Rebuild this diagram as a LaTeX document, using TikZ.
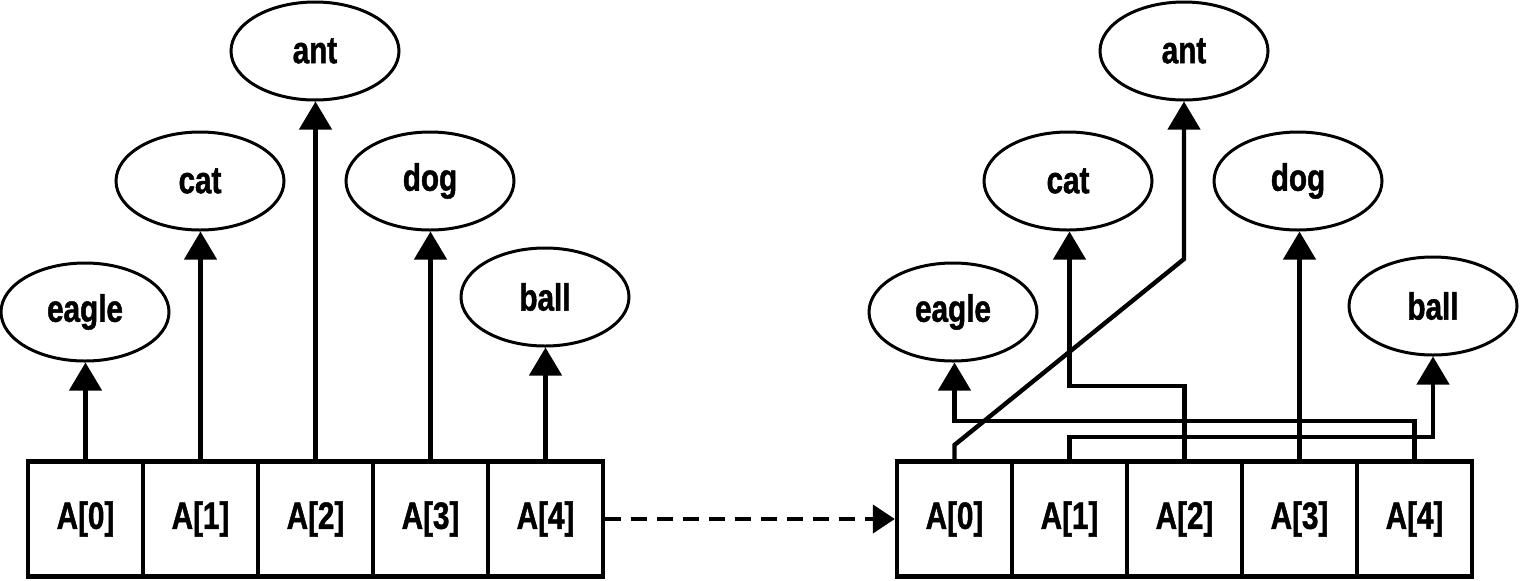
\documentclass[tikz,border=0pt]{standalone}
\usepackage{fontspec}
\newfontfamily\lbl[FakeStretch=0.78,FakeBold=1.2]{Liberation Sans}
\usetikzlibrary{arrows.meta,shapes.geometric}
\begin{document}
\begin{tikzpicture}[x=0.5pt,y=-0.5pt,
  txt/.style={font=\lbl\bfseries\fontsize{19}{22}\selectfont},
  word/.style={txt,ellipse,draw,line width=1.5pt,minimum width=84pt,minimum height=49pt,inner sep=0pt},
  cell/.style={txt,rectangle,draw,line width=2.2pt,minimum width=57.5pt,minimum height=57.5pt,inner sep=0pt},
  link/.style={line width=2.2pt,-{Triangle[width=16pt,length=14pt]}},
  move/.style={line width=2.2pt,dash pattern=on 8pt off 5pt,-{Triangle[width=14pt,length=11pt]}}]
\useasboundingbox (0,0) rectangle (1520,580);
% arrays
\foreach \i in {0,...,4} {
  \node[cell] (l\i) at ({85.5+115*\i},519) {A[\i]};
  \node[cell] (r\i) at ({954.5+115*\i},519) {A[\i]};
}
% left words
\node[word] (leagle) at (85,312) {eagle};
\node[word] (lcat) at (200,181) {cat};
\node[word] (lant) at (315,51) {ant};
\node[word] (ldog) at (430,181) {dog};
\node[word] (lball) at (545,297) {ball};
% right words
\node[word] (reagle) at (953,312) {eagle};
\node[word] (rcat) at (1068,181) {cat};
\node[word] (rant) at (1184,51) {ant};
\node[word] (rdog) at (1298,181) {dog};
\node[word] (rball) at (1433,306) {ball};
% left links
\draw[link] (l0.north) -- (l0.north |- leagle.south);
\draw[link] (l1.north) -- (l1.north |- lcat.south);
\draw[link] (l2.north) -- (l2.north |- lant.south);
\draw[link] (l3.north) -- (l3.north |- ldog.south);
\draw[link] (l4.north) -- (l4.north |- lball.south);
% right links
\draw[link] (r0.north) -- (r0.north |- 0,445) -- (rant.south |- 0,259) -- (rant.south);
\draw[link] (r4.north) -- (r4.north |- 0,421) -- (r0.north |- 0,421) -- (r0.north |- reagle.south);
\draw[link] (r1.north) -- (r1.north |- 0,437) -- (rball.south |- 0,437) -- (rball.south);
\draw[link] (r2.north) -- (r2.north |- 0,386) -- (r1.north |- 0,386) -- (r1.north |- rcat.south);
\draw[link] (r3.north) -- (r3.north |- rdog.south);
% move arrow
\draw[move] (l4.east) -- (r0.west);
\end{tikzpicture}
\end{document}
